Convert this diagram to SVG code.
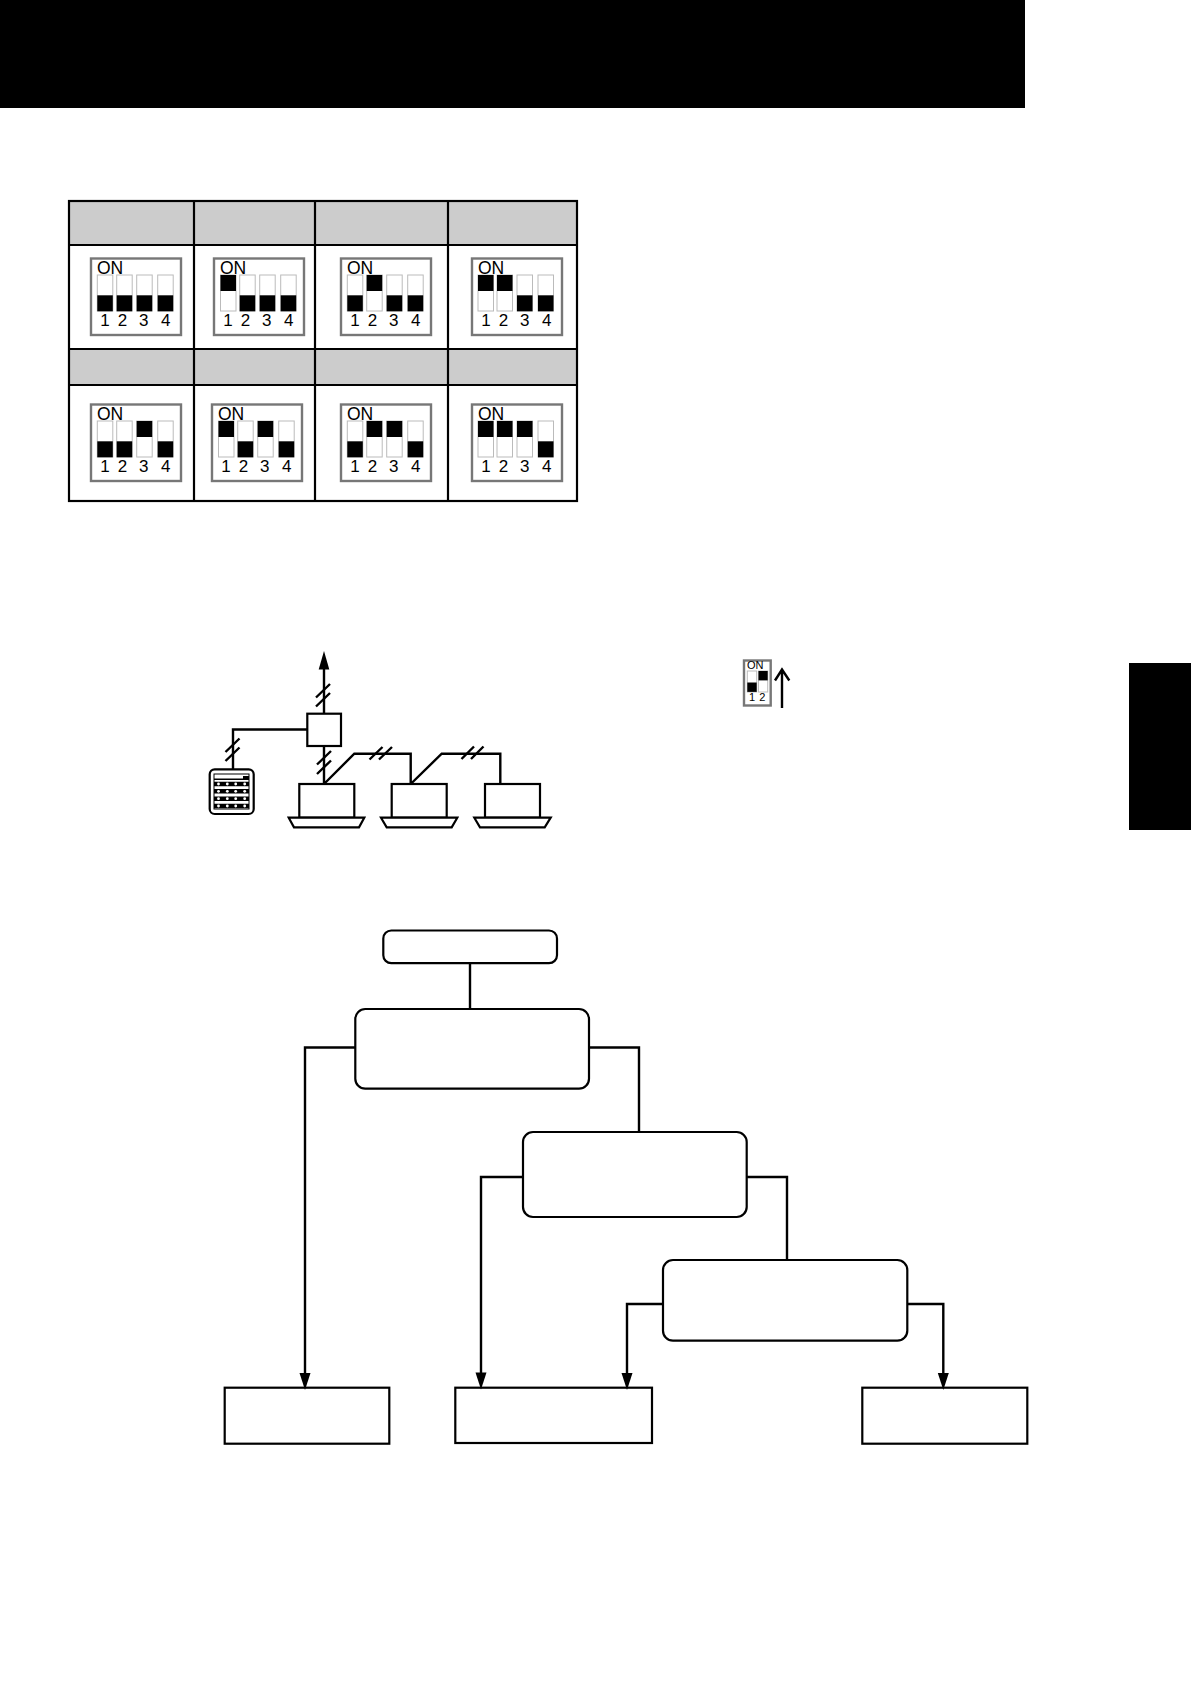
<svg xmlns="http://www.w3.org/2000/svg" width="1191" height="1684" viewBox="0 0 1191 1684">
<style>
.hd{fill:#cccccc}
.tl{stroke:#000;stroke-width:2.2;fill:none}
.dipbox{fill:#fff;stroke:#777;stroke-width:2.4}
.sw{fill:#fff;stroke:#bbb;stroke-width:1}
.on{font-family:"Liberation Sans",Arial,sans-serif;font-size:17.5px;fill:#000}
.dg{font-family:"Liberation Sans",Arial,sans-serif;font-size:17px;fill:#000;text-anchor:middle}
.w{stroke:#000;stroke-width:2.4;fill:none}
.n{fill:#fff;stroke:#000;stroke-width:2.2}
.c{stroke:#000;stroke-width:2.4;fill:none}
.ah{fill:#000}
</style>
<defs>
<g id="down"><rect class="sw" x="0" y="17" width="15.5" height="36"/><rect x="0" y="37.3" width="15.5" height="16"/></g>
<g id="up"><rect class="sw" x="0" y="17" width="15.5" height="36"/><rect x="0" y="17" width="15.5" height="16"/></g>
<g id="dipbase"><rect class="dipbox" x="0" y="0.5" width="90" height="76.5"/><text class="on" x="6" y="15.5">ON</text><text class="dg" x="14" y="67.5">1</text><text class="dg" x="31.5" y="67.5">2</text><text class="dg" x="52.7" y="67.5">3</text><text class="dg" x="74.7" y="67.5">4</text></g>
</defs>

<g id="page-marks">
<rect x="0" y="0" width="1025" height="108" fill="#000"/>
<rect x="1129" y="663" width="62" height="167" fill="#000"/>
</g>

<g id="table">
<rect class="hd" x="69" y="201" width="508" height="44"/>
<rect class="hd" x="69" y="349" width="508" height="36"/>
<rect class="tl" x="69" y="201" width="508" height="300"/>
<path class="tl" d="M69 245H577M69 349H577M69 385H577M194 201V501M315 201V501M448 201V501"/>
</g>

<g id="dip-1" transform="translate(91 258)"><use href="#dipbase"/><use href="#down" x="6.3"/><use href="#down" x="25.7"/><use href="#down" x="45.7"/><use href="#down" x="66.7"/></g>
<g id="dip-2" transform="translate(214 258)"><use href="#dipbase"/><use href="#up" x="6.5"/><use href="#down" x="25.7"/><use href="#down" x="45.7"/><use href="#down" x="66.7"/></g>
<g id="dip-3" transform="translate(341 258)"><use href="#dipbase"/><use href="#down" x="6.3"/><use href="#up" x="25.7"/><use href="#down" x="45.7"/><use href="#down" x="66.7"/></g>
<g id="dip-4" transform="translate(472 258)"><use href="#dipbase"/><use href="#up" x="6"/><use href="#up" x="25"/><use href="#down" x="45"/><use href="#down" x="66"/></g>
<g id="dip-5" transform="translate(91 404)"><use href="#dipbase"/><use href="#down" x="6.3"/><use href="#down" x="25.7"/><use href="#up" x="45.7"/><use href="#down" x="66.7"/></g>
<g id="dip-6" transform="translate(212 404)"><use href="#dipbase"/><use href="#up" x="6.5"/><use href="#down" x="25.7"/><use href="#up" x="45.7"/><use href="#down" x="66.7"/></g>
<g id="dip-7" transform="translate(341 404)"><use href="#dipbase"/><use href="#down" x="6.3"/><use href="#up" x="25.7"/><use href="#up" x="45.7"/><use href="#down" x="66.7"/></g>
<g id="dip-8" transform="translate(472 404)"><use href="#dipbase"/><use href="#up" x="6"/><use href="#up" x="25"/><use href="#up" x="45"/><use href="#down" x="66"/></g>

<g id="dip-small">
<rect class="dipbox" x="744" y="660.5" width="26.7" height="45"/>
<rect class="sw" x="747.3" y="671" width="9.4" height="21"/><rect x="747.3" y="682.5" width="9.4" height="9.4"/>
<rect class="sw" x="758.5" y="671" width="9.2" height="21"/><rect x="758.5" y="671" width="9.2" height="9.4"/>
<text x="747" y="669" font-family="'Liberation Sans',Arial,sans-serif" font-size="11">ON</text>
<text x="752" y="701" text-anchor="middle" font-family="'Liberation Sans',Arial,sans-serif" font-size="11">1</text>
<text x="762.3" y="701" text-anchor="middle" font-family="'Liberation Sans',Arial,sans-serif" font-size="11">2</text>
<path class="w" d="M782 708V669.5M775 680.5L782 669.5L789.3 680.5"/>
</g>

<g id="wiring">
<path class="w" d="M324 713V667"/>
<path d="M324 651L329.3 669.5H318.7Z" fill="#000"/>
<path class="w" d="M324 746V784M307 729.5H233V769M324 784L354.3 753.7H410.7V784L441.7 753.7H500.3V784"/>
<path class="w" d="M316 697.5L330 684M316 706.5L330 693M317 764.5L331 751M317 774L331 760.5M225.5 752L239.5 738.5M225.5 761L239.5 747.5M369.5 759.5L382.5 747M379 759.5L392 747M461.5 759L474 746.5M471 759L483.5 746.5"/>
</g>
<g id="junction"><rect class="n" x="307.3" y="713.7" width="33.7" height="32.3"/></g>
<g id="remote">
<rect class="n" x="209.7" y="769.3" width="44" height="44.7" rx="5"/>
<rect fill="#fff" stroke="#000" stroke-width="1" x="214" y="774" width="35" height="35"/>
<rect x="214" y="778.5" width="35" height="1.5"/>
<rect x="243" y="776" width="6" height="3.5"/>
<path stroke="#000" stroke-width="4.6" fill="none" d="M214 784H249M214 791.3H249M214 798.7H249M214 806H249"/>
<g fill="#fff">
<circle cx="218.5" cy="784" r="1.4"/><circle cx="227.3" cy="784" r="1.4"/><circle cx="235.7" cy="784" r="1.4"/><circle cx="244.7" cy="784" r="1.4"/>
<circle cx="218.5" cy="791.3" r="1.4"/><circle cx="227.3" cy="791.3" r="1.4"/><circle cx="235.7" cy="791.3" r="1.4"/><circle cx="244.7" cy="791.3" r="1.4"/>
<circle cx="218.5" cy="798.7" r="1.4"/><circle cx="227.3" cy="798.7" r="1.4"/><circle cx="235.7" cy="798.7" r="1.4"/><circle cx="244.7" cy="798.7" r="1.4"/>
<circle cx="218.5" cy="806" r="1.4"/><circle cx="227.3" cy="806" r="1.4"/><circle cx="235.7" cy="806" r="1.4"/><circle cx="244.7" cy="806" r="1.4"/>
</g>
</g>
<g id="unit-1"><rect class="n" x="299.3" y="784" width="55" height="33.7"/><path class="n" d="M288.7 817.7H364.3L359 827.3H294Z"/></g>
<g id="unit-2"><rect class="n" x="391.7" y="784" width="55" height="33.7"/><path class="n" d="M381 817.7H457.3L451.7 827.3H386.7Z"/></g>
<g id="unit-3"><rect class="n" x="485" y="784" width="55" height="33.7"/><path class="n" d="M474.3 817.7H550.7L544.7 827.3H480Z"/></g>

<g id="connectors">
<path class="c" d="M470 963V1009"/>
<path class="c" d="M355.3 1047.5H305V1375"/>
<path class="c" d="M589 1047.5H639V1132"/>
<path class="c" d="M523 1177H481V1375"/>
<path class="c" d="M746.7 1177H787V1260"/>
<path class="c" d="M663 1304H627V1375"/>
<path class="c" d="M907.3 1304H943.3V1375"/>
</g>
<g id="start"><rect class="n" x="383.3" y="930.5" width="173.7" height="32.7" rx="8"/></g>
<g id="decision-1"><rect class="n" x="355.3" y="1009" width="233.7" height="79.7" rx="10"/></g>
<g id="decision-2"><rect class="n" x="523" y="1132" width="223.7" height="85" rx="10"/></g>
<g id="decision-3"><rect class="n" x="663" y="1260" width="244.3" height="80.7" rx="10"/></g>
<g id="result-1"><rect class="n" x="224.7" y="1387.7" width="164.6" height="56"/></g>
<g id="result-2"><rect class="n" x="455.3" y="1387.7" width="196.7" height="55.3"/></g>
<g id="result-3"><rect class="n" x="862.3" y="1387.7" width="165" height="56"/></g>
<g id="connector-heads">
<path class="ah" d="M299.5 1373H310.5L305 1390Z"/><path class="ah" d="M475.5 1372.5H486.5L481 1389.5Z"/><path class="ah" d="M621.5 1373H632.5L627 1390Z"/><path class="ah" d="M937.8 1373H948.8L943.3 1390Z"/>
</g>
</svg>
